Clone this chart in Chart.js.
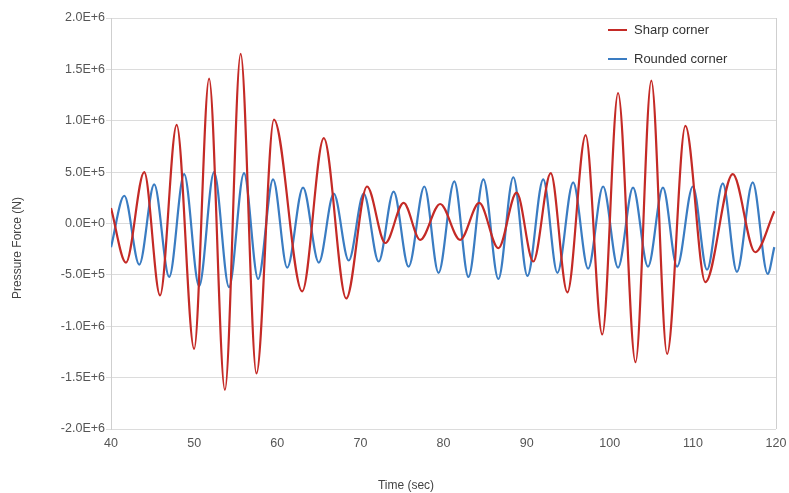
<!DOCTYPE html>
<html lang="en">
<head>
    <meta charset="utf-8" />
    <title>Pressure Force</title>
    <style>
        body { margin: 0; background: #fff; }
        #wrap { width: 789px; height: 493px; }
    </style>
</head>
<body>
    <div id="wrap">
        <canvas id="forceChart" width="789" height="493"></canvas>
    </div>

    <script src="https://cdn.jsdelivr.net/npm/chart.js"></script>
    <script>
        // values (peaks / troughs), force in N
        const sharpTimes = [40.0, 41.8, 44.0, 45.9, 47.9, 50.0, 51.8, 53.7, 55.6, 57.5, 59.6, 63.0, 65.6, 68.3,
            70.8, 73.0, 75.2, 77.2, 79.6, 82.0, 84.3, 86.6, 88.8, 90.8, 92.9, 94.9, 97.1, 99.1,
            101.0, 103.1, 105.0, 106.9, 109.1, 111.5, 114.8, 117.5, 119.8];
        const sharpValues = [150000, -380000, 500000, -700000, 960000, -1220000, 1410000, -1620000, 1650000, -1460000, 1010000, -660000, 830000, -730000,
            360000, -190000, 200000, -160000, 190000, -160000, 200000, -240000, 300000, -370000, 490000, -670000, 860000, -1080000,
            1270000, -1350000, 1390000, -1270000, 950000, -570000, 480000, -280000, 120000];

        const roundedTimes = [40.0, 41.6, 43.4, 45.2, 47.0, 48.8, 50.6, 52.4, 54.2, 56.0, 57.7, 59.5, 61.2, 63.1,
            65.0, 66.8, 68.6, 70.4, 72.2, 74.0, 75.8, 77.7, 79.4, 81.3, 83.0, 84.8, 86.6, 88.4,
            90.1, 92.0, 93.7, 95.6, 97.4, 99.2, 101.0, 102.8, 104.6, 106.4, 108.1, 110.0, 111.7,
            113.6, 115.3, 117.2, 119.0, 119.8];
        const roundedValues = [-230000, 270000, -400000, 380000, -520000, 480000, -610000, 500000, -620000, 490000, -540000, 430000, -430000, 350000,
            -380000, 290000, -360000, 290000, -370000, 310000, -420000, 360000, -480000, 410000, -520000, 430000, -540000, 450000,
            -510000, 430000, -480000, 400000, -440000, 360000, -430000, 350000, -420000, 350000, -420000, 360000, -450000,
            390000, -470000, 400000, -490000, -230000];

        const yTicks = [-2000000, -1500000, -1000000, -500000, 0, 500000, 1000000, 1500000, 2000000];
        const xTicks = [40, 50, 60, 70, 80, 90, 100, 110, 120];

        function toPoints(xs, ys) {
            return xs.map((x, i) => ({ x: x, y: ys[i] }));
        }

        const fontFamily = '"Liberation Sans", Arial, sans-serif';

        // legend inside the plot (top right) and the two axis titles
        const extras = {
            id: 'extras',
            afterDraw(chart) {
                const ctx = chart.ctx;
                const area = chart.chartArea;
                const x0 = area.right - 168;
                ctx.save();
                ctx.fillStyle = '#fff';
                ctx.fillRect(x0 - 12, area.top + 2, 175, 48);
                ctx.font = '13px ' + fontFamily;
                ctx.textBaseline = 'middle';
                chart.data.datasets.forEach((ds, i) => {
                    const y = area.top + 12 + i * 29;
                    ctx.strokeStyle = ds.borderColor;
                    ctx.lineWidth = 2;
                    ctx.beginPath();
                    ctx.moveTo(x0, y);
                    ctx.lineTo(x0 + 19, y);
                    ctx.stroke();
                    ctx.fillStyle = '#333';
                    ctx.fillText(ds.label, x0 + 26, y);
                });

                ctx.font = '12px ' + fontFamily;
                ctx.fillStyle = '#444';
                ctx.textAlign = 'center';
                ctx.fillText('Time (sec)', 406, 486);
                ctx.translate(18, 248);
                ctx.rotate(-Math.PI / 2);
                ctx.fillText('Pressure Force (N)', 0, 0);
                ctx.restore();
            }
        };

        const data = {
            datasets: [{
                label: 'Sharp corner',
                data: toPoints(sharpTimes, sharpValues),
                borderColor: '#c42a26',
                borderWidth: 2.2,
                pointRadius: 0,
                cubicInterpolationMode: 'monotone',
                fill: false
            }, {
                label: 'Rounded corner',
                data: toPoints(roundedTimes, roundedValues),
                borderColor: '#3a7cc2',
                borderWidth: 2.2,
                pointRadius: 0,
                cubicInterpolationMode: 'monotone',
                fill: false
            }]
        };

        const config = {
            type: 'line',
            data: data,
            options: {
                responsive: false,
                animation: false,
                layout: { padding: { top: 18, right: 13, left: 0, bottom: 0 } },
                plugins: {
                    legend: { display: false },
                    tooltip: { enabled: false }
                },
                scales: {
                    x: {
                        type: 'linear',
                        min: 40,
                        max: 120,
                        afterBuildTicks: (scale) => { scale.ticks = xTicks.map(v => ({ value: v })); },
                        afterFit: (scale) => { scale.height = 64; scale.paddingRight = 0; scale.paddingLeft = 0; },
                        grid: {
                            color: (c) => (c.tick && (c.tick.value === 40 || c.tick.value === 120)) ? '#cfcfcf' : 'rgba(0,0,0,0)',
                            drawTicks: false
                        },
                        border: { display: false },
                        ticks: { color: '#555', font: { family: fontFamily, size: 12.5 }, padding: 7, maxRotation: 0 }
                    },
                    y: {
                        min: -2000000,
                        max: 2000000,
                        afterBuildTicks: (scale) => { scale.ticks = yTicks.map(v => ({ value: v })); },
                        afterFit: (scale) => { scale.width = 111; },
                        grid: { color: '#dcdcdc', tickLength: 5, tickColor: '#ddd' },
                        border: { display: true, color: '#cfcfcf' },
                        ticks: {
                            color: '#555',
                            font: { family: fontFamily, size: 12.5 },
                            padding: 1,
                            callback: (v) => v.toExponential(1).toUpperCase()
                        }
                    }
                }
            },
            plugins: [extras]
        };

        const forceChart = new Chart(document.getElementById('forceChart'), config);
    </script>
</body>
</html>
